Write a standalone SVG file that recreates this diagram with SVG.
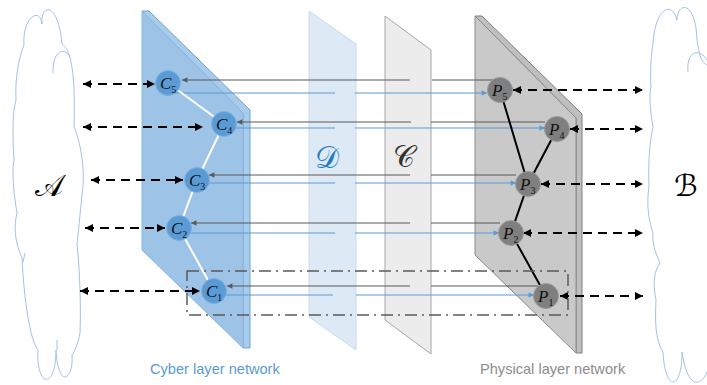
<svg xmlns="http://www.w3.org/2000/svg" width="707" height="385" viewBox="0 0 707 385">
<style>
.cloud{fill:#fff;stroke:#a4c2e2;stroke-width:1}
.cloudin{fill:none;stroke:#a4c2e2;stroke-width:1}
.dd{fill:none;stroke:#000;stroke-width:2;stroke-dasharray:9 6;marker-start:url(#ab);marker-end:url(#ab)}
.dk{fill:none;stroke:#595959;stroke-width:1.2;marker-end:url(#ag)}
.bl{fill:none;stroke:#5b9bd5;stroke-width:1.2;marker-end:url(#abl)}
.cn{fill:#5b9bd5;stroke:#7fb2e0;stroke-width:1}
.pn{fill:#7f7f7f;stroke:#9a9a9a;stroke-width:1}
.nl{font-family:"Liberation Serif",serif;font-style:italic;font-size:17px;fill:#111}
.sub{font-size:10px;font-style:normal}
.big{font-family:"DejaVu Serif","DejaVu Sans","Liberation Serif",serif;font-size:30px}
.cap{font-family:"Liberation Sans","Open Sans",sans-serif;font-size:14.6px}
</style>
<defs>
<marker id="ab" viewBox="0 0 10 10" refX="10" refY="5" markerWidth="4.5" markerHeight="4" orient="auto-start-reverse" markerUnits="strokeWidth"><path d="M0,0 L10,5 L0,10 z" fill="#000"/></marker>
<marker id="ag" viewBox="0 0 10 10" refX="10" refY="5" markerWidth="5" markerHeight="4.5" orient="auto" markerUnits="strokeWidth"><path d="M0,0 L10,5 L0,10 z" fill="#595959"/></marker>
<marker id="abl" viewBox="0 0 10 10" refX="10" refY="5" markerWidth="5" markerHeight="4.5" orient="auto" markerUnits="strokeWidth"><path d="M0,0 L10,5 L0,10 z" fill="#5b9bd5"/></marker>
</defs>

<g id="cloudA">
<path class="cloud" d="M24 45 C22 18,40 6,42 24 C40 4,58 0,62 44 C68 48,76 60,74 127 C80 140,86 170,82 195 C80 215,78 235,77 245 C80 270,81 310,80 333 C78 345,74 352,72 355 C74 380,58 390,56 350 C56 390,36 388,38 350 C30 340,24 300,22 258 C14 240,14 225,17 213 C13 190,12 170,14 160 C12 130,13 110,16 100 C15 80,18 60,24 45 Z"/>
<path class="cloudin" d="M53 73 C52 50,66 46,70 58 M25 253 L23 262 M57 350 L57 340"/>
<text class="big" x="49" y="196" text-anchor="middle" fill="#000">𝒜</text>
</g>

<g id="cloudB">
<path class="cloud" d="M653 44 C655 8,672 0,677 20 C678 0,696 2,697 40 C700 60,702 62,707 65 L712 65 L712 370 L707 372 C702 385,688 392,682 352 C682 392,665 392,663 352 C655 340,655 320,656 300 C652 280,655 270,660 263 C654 250,652 240,653 233 C647 215,647 200,649 187 C648 160,650 140,653 127 C650 110,649 95,651 87 C650 70,651 55,653 44 Z"/>
<path class="cloudin" d="M688 72 C686 50,700 48,707 60"/>
<text class="big" x="686" y="196" text-anchor="middle" fill="#000">ℬ</text>
</g>

<g id="cyberPanel">
<polygon points="142,11 149,11 250,110 250,348 243,348 243,113" fill="#a9cbea" stroke="#6fa3d6" stroke-width="1"/>
<polygon points="142,11 243,113 243,348 142,250" fill="#9dc3e6" stroke="#8ab6e0" stroke-width="1"/>
</g>

<g id="physicalPanel">
<polygon points="475,16 482,16 582,114 582,353 576,353 576,118" fill="#bfbfbf" stroke="#7f7f7f" stroke-width="1"/>
<polygon points="475,16 576,118 576,353 475,255" fill="#c9c9c9" stroke="#8c8c8c" stroke-width="1"/>
</g>

<g id="Dpanel">
<polygon points="309,11 356,44 356,350 309,317" fill="#dde9f5" stroke="#c8dbef" stroke-width="1"/>
<text class="big" x="327" y="168" text-anchor="middle" fill="#1f7fc4">𝒟</text>
</g>

<g id="Cpanel">
<polygon points="385,16 431,50 431,354 385,320" fill="#ececec" stroke="#a6a6a6" stroke-width="1"/>
<text class="big" x="404" y="167" text-anchor="middle" fill="#333">𝒞</text>
</g>

<g id="connectors">
<path class="dk" d="M493 80 H432 M410 80 H182"/>
<path class="bl" d="M170 93 H335 M355 93 H487"/>
<path class="dk" d="M545 122 H431 M411 122 H237"/>
<path class="bl" d="M230 128 H335 M355 128 H545"/>
<path class="dk" d="M516 175 H431 M410 175 H209"/>
<path class="bl" d="M205 183 H335 M355 183 H516"/>
<path class="dk" d="M500 223 H431 M410 223 H191"/>
<path class="bl" d="M185 233 H335 M355 233 H499"/>
<path class="dk" d="M538 286 H431 M410 286 H227"/>
<path class="bl" d="M220 295 H333 M356 295 H534"/>

<g stroke="#fff" stroke-width="2" fill="none">
<path d="M168 83 L224 124 L197 180 L179 228 L214 291"/>
</g>
<g stroke="#000" stroke-width="2" fill="none">
<path d="M500 90 L528 184 M557 129 L528 184 L511 233 L546 296"/>
</g>

<path class="dd" d="M83 84 H155"/>
<path class="dd" d="M83 127 H203"/>
<path class="dd" d="M91 180 H183"/>
<path class="dd" d="M85 228 H165"/>
<path class="dd" d="M80 291 H200"/>
<path class="dd" d="M513 90 H643"/>
<path class="dd" d="M570 129 H643"/>
<path class="dd" d="M541 184 H643"/>
<path class="dd" d="M523 233 H643"/>
<path class="dd" d="M560 296 H643"/>

<rect x="187" y="271" width="381" height="44" fill="none" stroke="#595959" stroke-width="1.5" stroke-dasharray="12 5 2 5"/>
</g>

<g id="C5"><circle class="cn" cx="168" cy="83" r="12.5"/><text class="nl" x="160" y="89">C<tspan class="sub" dy="4">5</tspan></text></g>
<g id="C4"><circle class="cn" cx="224" cy="124" r="12.5"/><text class="nl" x="216" y="130">C<tspan class="sub" dy="4">4</tspan></text></g>
<g id="C3"><circle class="cn" cx="197" cy="180" r="12.5"/><text class="nl" x="189" y="186">C<tspan class="sub" dy="4">3</tspan></text></g>
<g id="C2"><circle class="cn" cx="179" cy="228" r="12.5"/><text class="nl" x="171" y="234">C<tspan class="sub" dy="4">2</tspan></text></g>
<g id="C1"><circle class="cn" cx="214" cy="291" r="12.5"/><text class="nl" x="206" y="297">C<tspan class="sub" dy="4">1</tspan></text></g>

<g id="P5"><circle class="pn" cx="500" cy="90" r="12.5"/><text class="nl" x="492" y="96">P<tspan class="sub" dy="4">5</tspan></text></g>
<g id="P4"><circle class="pn" cx="557" cy="129" r="12.5"/><text class="nl" x="549" y="135">P<tspan class="sub" dy="4">4</tspan></text></g>
<g id="P3"><circle class="pn" cx="528" cy="184" r="12.5"/><text class="nl" x="520" y="190">P<tspan class="sub" dy="4">3</tspan></text></g>
<g id="P2"><circle class="pn" cx="511" cy="233" r="12.5"/><text class="nl" x="503" y="239">P<tspan class="sub" dy="4">2</tspan></text></g>
<g id="P1"><circle class="pn" cx="546" cy="296" r="12.5"/><text class="nl" x="538" y="302">P<tspan class="sub" dy="4">1</tspan></text></g>

<text class="cap" x="150" y="374" fill="#5b9bd5">Cyber layer network</text>
<text class="cap" x="480" y="374" fill="#8c8c8c">Physical layer network</text>
</svg>
